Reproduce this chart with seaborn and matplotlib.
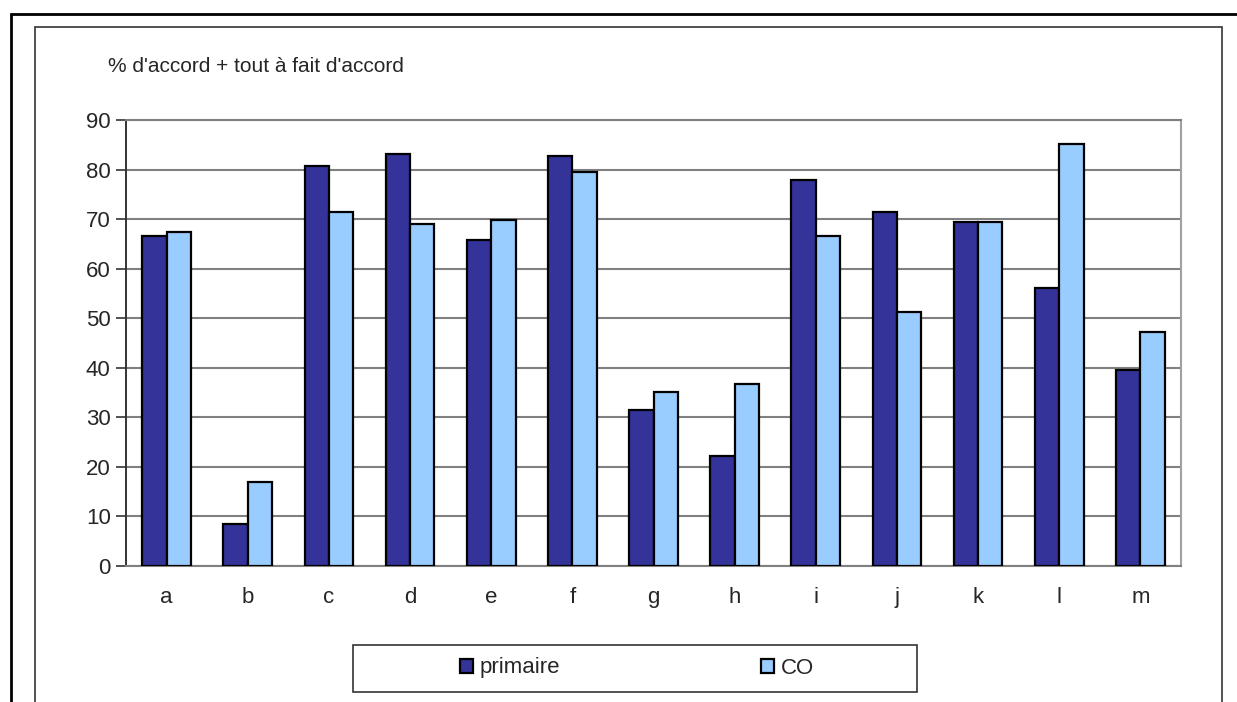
# Bar chart: "% d'accord + tout à fait d'accord", primaire vs CO
# - grouped bars drawn with seaborn
# - Excel-like frame, gridlines and boxed legend below the plot

import matplotlib.pyplot as plt
import matplotlib.patches as mpatches
import pandas as pd
import seaborn as sns

categories = ["a", "b", "c", "d", "e", "f", "g", "h", "i", "j", "k", "l", "m"]
primaire = [66.6, 8.5, 80.7, 83.1, 65.8, 82.7, 31.5, 22.2, 77.9, 71.4, 69.4, 56.1, 39.5]
co = [67.4, 16.9, 71.4, 69.0, 69.8, 79.5, 35.1, 36.7, 66.6, 51.3, 69.4, 85.1, 47.2]
series_names = ["primaire", "CO"]
y_ticks = [0, 10, 20, 30, 40, 50, 60, 70, 80, 90]

colors = {"primaire": "#333399", "CO": "#99CCFF"}


def main():
    sns.set_style("white")
    plt.rcParams["font.family"] = ["Liberation Sans Narrow", "Liberation Sans", "DejaVu Sans"]

    data = pd.DataFrame({
        "categorie": categories * 2,
        "valeur": primaire + co,
        "serie": [series_names[0]] * len(categories) + [series_names[1]] * len(categories),
    })

    fig = plt.figure(figsize=(12.37, 7.02), dpi=100)
    ax = fig.add_axes([126 / 1237, 1 - 566 / 702, (1181 - 126) / 1237, (566 - 120) / 702])

    sns.barplot(data=data, x="categorie", y="valeur", hue="serie", order=categories,
                hue_order=series_names, palette=colors, width=0.6, gap=0,
                edgecolor="black", linewidth=1.6, saturation=1, legend=False, ax=ax,
                zorder=3)

    # axes styling
    ax.set_ylim(0, 90)
    ax.set_xlim(-0.5, len(categories) - 0.5)
    ax.set_yticks(y_ticks)
    ax.set_xlabel("")
    ax.set_ylabel("")
    ax.yaxis.grid(True, color="#808080", linewidth=1.5, zorder=0)
    ax.set_axisbelow(True)
    ax.tick_params(axis="y", direction="out", length=7, width=1.2, color="#333333",
                   labelsize=16, pad=4, left=True)
    ax.tick_params(axis="x", length=0, labelsize=16, pad=15)
    ax.spines["left"].set_color("#333333")
    ax.spines["left"].set_linewidth(1.4)
    ax.spines["bottom"].set_color("#808080")
    ax.spines["bottom"].set_linewidth(1.5)
    ax.spines["top"].set_color("#808080")
    ax.spines["top"].set_linewidth(1.5)
    ax.spines["right"].set_color("#a0a0a0")
    ax.spines["right"].set_linewidth(1.5)

    # y-axis title
    fig.text(108 / 1237, 1 - 67 / 702, "% d'accord + tout à fait d'accord",
             fontsize=15, ha="left", va="center")

    # outer and inner frames
    fig.patches.append(mpatches.Rectangle((11 / 1237, -0.05), 1.2, 1 - 14 / 702 + 0.05,
                                          transform=fig.transFigure, fill=False,
                                          edgecolor="black", linewidth=2))
    fig.patches.append(mpatches.Rectangle((35 / 1237, -0.05), (1222 - 35) / 1237,
                                          1 - 27 / 702 + 0.05, transform=fig.transFigure,
                                          fill=False, edgecolor="#333333", linewidth=1.2))

    # legend box
    fig.patches.append(mpatches.Rectangle((353 / 1237, 1 - 692 / 702), (917 - 353) / 1237,
                                          (692 - 645) / 702, transform=fig.transFigure,
                                          fill=False, edgecolor="#333333", linewidth=1.2))
    handles = [mpatches.Patch(facecolor=colors[s], edgecolor="black", linewidth=1.6, label=s)
               for s in series_names]
    fig.legend(handles=handles, loc="center left",
               bbox_to_anchor=(460 / 1237, 1 - 668 / 702), ncol=2, frameon=False,
               fontsize=16, handlelength=0.6, handleheight=0.6, handletextpad=0.3,
               columnspacing=9.0, borderpad=0, borderaxespad=0)

    fig.savefig("out.png", dpi=100)


if __name__ == "__main__":
    main()
